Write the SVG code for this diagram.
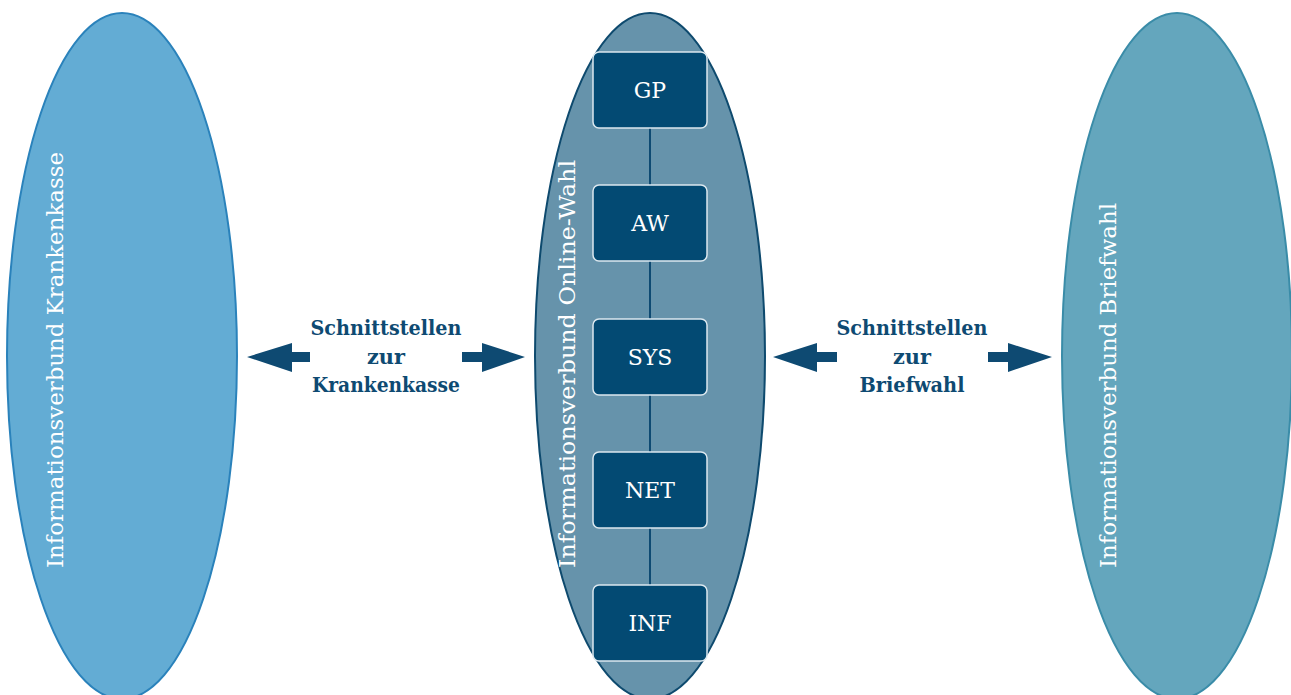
<svg xmlns="http://www.w3.org/2000/svg" width="1291" height="695" viewBox="0 0 1291 695">
<style>
.lbl{font-family:"DejaVu Serif","Liberation Serif",serif;font-size:22px;fill:#ffffff}
.box{fill:#034a73;stroke:#dce8ef;stroke-width:1.5}
.btxt{font-family:"DejaVu Serif","Liberation Serif",serif;font-size:22px;fill:#ffffff;text-anchor:middle}
.itxt{font-family:"DejaVu Serif","Liberation Serif",serif;font-size:20px;font-weight:bold;fill:#0e4a72;text-anchor:middle}
.arr{fill:#0e4a72}
.link{stroke:#0e4a72;stroke-width:2}
</style>
<rect width="1291" height="695" fill="#ffffff"/>
<g id="krankenkasse">
<ellipse cx="122" cy="356" rx="115" ry="343" fill="#63acd4" stroke="#2a82bb" stroke-width="2"/>
<text class="lbl" transform="translate(63,568) rotate(-90)" textLength="416" lengthAdjust="spacingAndGlyphs">Informationsverbund Krankenkasse</text>
</g>
<g id="onlinewahl">
<ellipse cx="650" cy="356" rx="115" ry="343" fill="#6693ab" stroke="#0e4a6e" stroke-width="2"/>
<text class="lbl" transform="translate(575,568) rotate(-90)" textLength="408" lengthAdjust="spacingAndGlyphs">Informationsverbund Online-Wahl</text>
</g>
<g id="briefwahl">
<ellipse cx="1177" cy="356" rx="115" ry="343" fill="#64a6bd" stroke="#3a8ca8" stroke-width="2"/>
<text class="lbl" transform="translate(1116,568) rotate(-90)" textLength="365" lengthAdjust="spacingAndGlyphs">Informationsverbund Briefwahl</text>
</g>
<g id="connectors">
<line class="link" x1="650" y1="128" x2="650" y2="185"/>
<line class="link" x1="650" y1="261" x2="650" y2="319"/>
<line class="link" x1="650" y1="395" x2="650" y2="452"/>
<line class="link" x1="650" y1="528" x2="650" y2="585"/>
</g>
<g id="gp"><rect class="box" x="593" y="52" width="114" height="76" rx="6"/><text class="btxt" x="650" y="98">GP</text></g>
<g id="aw"><rect class="box" x="593" y="185" width="114" height="76" rx="6"/><text class="btxt" x="650" y="231">AW</text></g>
<g id="sys"><rect class="box" x="593" y="319" width="114" height="76" rx="6"/><text class="btxt" x="650" y="365">SYS</text></g>
<g id="net"><rect class="box" x="593" y="452" width="114" height="76" rx="6"/><text class="btxt" x="650" y="498">NET</text></g>
<g id="inf"><rect class="box" x="593" y="585" width="114" height="76" rx="6"/><text class="btxt" x="650" y="631">INF</text></g>
<g id="schnittstelle-kk">
<polygon class="arr" points="247,357 292,343 292,352 310,352 310,362 292,362 292,372"/>
<polygon class="arr" points="525,357 482,343 482,352 462,352 462,362 482,362 482,372"/>
<text class="itxt" x="386" y="335" textLength="151" lengthAdjust="spacingAndGlyphs">Schnittstellen</text>
<text class="itxt" x="386" y="364" textLength="38" lengthAdjust="spacingAndGlyphs">zur</text>
<text class="itxt" x="386" y="392" textLength="148" lengthAdjust="spacingAndGlyphs">Krankenkasse</text>
</g>
<g id="schnittstelle-bw">
<polygon class="arr" points="773,357 817,343 817,352 837,352 837,362 817,362 817,372"/>
<polygon class="arr" points="1052,357 1008,343 1008,352 988,352 988,362 1008,362 1008,372"/>
<text class="itxt" x="912" y="335" textLength="151" lengthAdjust="spacingAndGlyphs">Schnittstellen</text>
<text class="itxt" x="912" y="364" textLength="38" lengthAdjust="spacingAndGlyphs">zur</text>
<text class="itxt" x="912" y="392" textLength="105" lengthAdjust="spacingAndGlyphs">Briefwahl</text>
</g>
</svg>
